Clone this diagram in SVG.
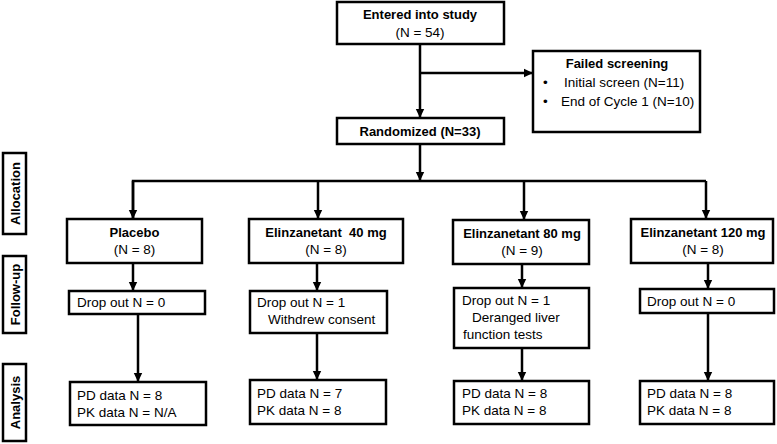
<svg xmlns="http://www.w3.org/2000/svg" width="777" height="444" viewBox="0 0 777 444">
<defs>
<style>
.box{fill:#fff;stroke:#000;stroke-width:2.5}
.ln{fill:none;stroke:#000;stroke-width:2.5}
.arr{marker-end:url(#ah)}
text{font-family:"Liberation Sans",Arial,sans-serif;font-size:13.5px;fill:#000}
.b{font-weight:bold;font-size:13px}
.c{text-anchor:middle}
</style>
<marker id="ah" markerUnits="userSpaceOnUse" markerWidth="10" markerHeight="10" refX="9" refY="5" orient="auto">
<path d="M0,0.8 L9,5 L0,9.2 z" fill="#000"/>
</marker>
</defs>
<rect width="777" height="444" fill="#fff"/>
<g id="connectors">
<line class="ln arr" x1="420" y1="44" x2="420" y2="118"/>
<line class="ln arr" x1="420" y1="73" x2="533" y2="73"/>
<line class="ln arr" x1="420" y1="144" x2="420" y2="181"/>
<polyline class="ln" points="133,219 133,181 706,181"/>
<line class="ln arr" x1="133" y1="181" x2="133" y2="219"/>
<line class="ln arr" x1="318" y1="181" x2="318" y2="219"/>
<line class="ln arr" x1="524" y1="181" x2="524" y2="220"/>
<line class="ln arr" x1="706" y1="181" x2="706" y2="219"/>
<line class="ln arr" x1="133" y1="263" x2="133" y2="291"/>
<line class="ln arr" x1="317" y1="263" x2="317" y2="291"/>
<line class="ln arr" x1="522" y1="264" x2="522" y2="288"/>
<line class="ln arr" x1="708" y1="263" x2="708" y2="289"/>
<line class="ln arr" x1="138" y1="314" x2="138" y2="382"/>
<line class="ln arr" x1="317" y1="333" x2="317" y2="380"/>
<line class="ln arr" x1="522" y1="348" x2="522" y2="381"/>
<line class="ln arr" x1="708" y1="313" x2="708" y2="381"/>
</g>
<g id="entered">
<rect class="box" x="337" y="2" width="167" height="42"/>
<text class="b c" x="420" y="19">Entered into study</text>
<text class="c" x="420" y="37">(N = 54)</text>
</g>
<g id="failed">
<rect class="box" x="533" y="51" width="167" height="81"/>
<text class="b c" x="617" y="68">Failed screening</text>
<text x="543" y="87">•</text>
<text x="564" y="87">Initial screen (N=11)</text>
<text x="543" y="106">•</text>
<text x="561" y="106">End of Cycle 1 (N=10)</text>
</g>
<g id="randomized">
<rect class="box" x="337" y="118" width="167" height="26"/>
<text class="b c" x="420" y="136">Randomized (N=33)</text>
</g>
<g id="lab-allocation">
<rect class="box" x="3" y="153" width="23" height="81"/>
<text class="b c" transform="translate(19.5,193.5) rotate(-90)">Allocation</text>
</g>
<g id="lab-followup">
<rect class="box" x="3" y="256" width="23" height="77"/>
<text class="b c" transform="translate(19.5,294.5) rotate(-90)">Follow-up</text>
</g>
<g id="lab-analysis">
<rect class="box" x="3" y="364" width="23" height="77"/>
<text class="b c" transform="translate(19.5,402.5) rotate(-90)">Analysis</text>
</g>
<g id="placebo">
<rect class="box" x="67" y="219" width="135" height="44"/>
<text class="b c" x="134.5" y="237">Placebo</text>
<text class="c" x="134.5" y="254">(N = 8)</text>
</g>
<g id="e40">
<rect class="box" x="249" y="219" width="154" height="44"/>
<text class="b c" x="326" y="237" xml:space="preserve">Elinzanetant  40 mg</text>
<text class="c" x="326" y="254">(N = 8)</text>
</g>
<g id="e80">
<rect class="box" x="453" y="220" width="136" height="44"/>
<text class="b c" x="522" y="238">Elinzanetant 80 mg</text>
<text class="c" x="522" y="255">(N = 9)</text>
</g>
<g id="e120">
<rect class="box" x="631" y="219" width="142" height="44"/>
<text class="b c" x="703" y="237">Elinzanetant 120 mg</text>
<text class="c" x="703" y="254">(N = 8)</text>
</g>
<g id="drop-placebo">
<rect class="box" x="69" y="291" width="136" height="23"/>
<text x="77" y="307">Drop out N = 0</text>
</g>
<g id="drop-40">
<rect class="box" x="250" y="291" width="137" height="42"/>
<text x="257" y="307">Drop out N = 1</text>
<text x="268" y="324">Withdrew consent</text>
</g>
<g id="drop-80">
<rect class="box" x="454" y="288" width="135" height="60"/>
<text x="462" y="305">Drop out N = 1</text>
<text x="472" y="322">Deranged liver</text>
<text x="463" y="339">function tests</text>
</g>
<g id="drop-120">
<rect class="box" x="640" y="289" width="134" height="24"/>
<text x="647" y="306">Drop out N = 0</text>
</g>
<g id="an-placebo">
<rect class="box" x="70" y="382" width="136" height="43"/>
<text x="77" y="400">PD data N = 8</text>
<text x="77" y="417">PK data N = N/A</text>
</g>
<g id="an-40">
<rect class="box" x="250" y="380" width="136" height="44"/>
<text x="257" y="398">PD data N = 7</text>
<text x="257" y="415">PK data N = 8</text>
</g>
<g id="an-80">
<rect class="box" x="454" y="381" width="135" height="43"/>
<text x="462" y="398">PD data N = 8</text>
<text x="462" y="415">PK data N = 8</text>
</g>
<g id="an-120">
<rect class="box" x="640" y="381" width="134" height="43"/>
<text x="647" y="398">PD data N = 8</text>
<text x="647" y="415">PK data N = 8</text>
</g>
</svg>
